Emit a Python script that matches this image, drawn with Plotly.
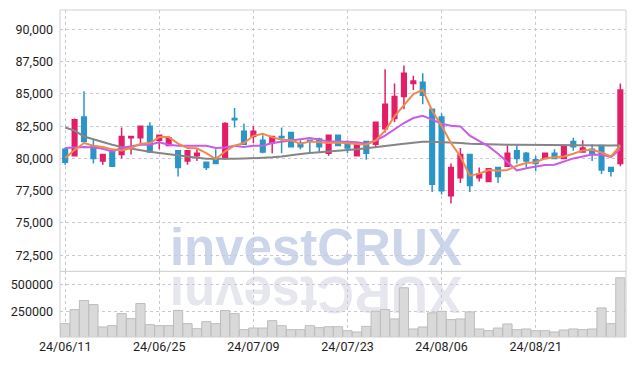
import plotly.graph_objects as go

dates = ["24/06/11","24/06/12","24/06/13","24/06/14","24/06/17","24/06/18","24/06/19","24/06/20","24/06/21","24/06/24",
         "24/06/25","24/06/26","24/06/27","24/06/28","24/07/01","24/07/02","24/07/03","24/07/04","24/07/05","24/07/08",
         "24/07/09","24/07/10","24/07/11","24/07/12","24/07/15","24/07/16","24/07/17","24/07/18","24/07/19","24/07/22",
         "24/07/23","24/07/24","24/07/25","24/07/26","24/07/29","24/07/30","24/07/31","24/08/01","24/08/02","24/08/05",
         "24/08/06","24/08/07","24/08/08","24/08/09","24/08/12","24/08/13","24/08/14","24/08/16","24/08/19","24/08/20",
         "24/08/21","24/08/22","24/08/23","24/08/26","24/08/27","24/08/28","24/08/29","24/08/30","24/09/02","24/09/03"]

open_ = [80700,80200,83200,80900,79800,80600,80300,81600,81600,82500,
         81400,81000,80600,79800,80200,79700,80000,80000,83100,82100,
         81700,81400,81200,81700,82000,81200,81400,81500,80400,81800,
         81100,80200,81300,81100,82300,83100,84800,85800,85900,83800,
         83200,77100,78500,80300,78500,78200,79300,79400,80600,80400,
         79900,80000,80400,80000,81300,80500,80700,81000,79300,79600]
high_ = [80850,83100,85200,81500,80300,80700,82400,81700,82500,82800,
         81800,81700,80600,80600,80700,79700,80700,82800,83900,82700,
         82500,81800,81700,82400,82000,81400,81400,81600,81800,81800,
         81400,81100,81300,82800,86900,85800,87200,86400,86600,83800,
         83500,79600,80800,80300,79300,79200,79300,81000,81100,80500,
         80200,80400,80700,81000,81600,81400,81100,81000,79300,85800]
low_ = [79500,80200,81300,79600,79500,79400,80000,80300,81200,80500,
        80700,81000,78600,79500,79800,79100,79600,79900,82400,81100,
        81200,80400,80400,80400,80900,80700,80400,80500,80200,81000,
        80400,80200,79900,80800,82000,82800,83800,85300,84200,77400,
        77200,76500,78100,77400,78200,78200,78100,79400,79600,79300,
        79000,80000,80000,80000,80600,80500,79800,78800,78600,79400]
close_ = [79700,83000,81300,80000,80300,79400,81700,81700,82500,80500,
          81800,81600,79300,80600,80400,79300,79600,82700,83000,81100,
          82100,80500,81700,81600,80900,80900,81300,80900,81800,81000,
          80800,81100,80400,82800,84200,84800,86600,86000,84900,78000,
          77500,79300,80300,77900,78800,79200,78600,80400,80000,79800,
          79600,80400,80000,81000,80900,80800,80400,79100,79000,85300]

volume = [142900,271000,353500,316800,112600,124500,234400,188600,326000,133700,
          124500,124500,262000,142900,97000,161000,142900,262000,234400,88000,
          103000,103000,170000,124500,88000,88000,124500,106000,115000,115000,
          78800,66700,118000,255500,271000,185900,469800,94300,112600,240800,
          255500,179500,185900,250000,94300,78800,103000,140000,88000,94300,
          78800,78800,66700,85000,94300,88000,94300,286600,142900,561000]

ma5 = [80030,80650,81190,80980,80880,80700,80620,80800,81140,81190,
       81650,81650,81140,80800,80780,80400,79950,80540,80980,81190,
       81750,81910,81650,81450,81400,81140,81300,81240,81190,81240,
       81190,81140,81060,81390,82150,83250,84150,84980,85320,83690,
       82530,81190,80150,78660,78820,79100,79050,79100,79430,79640,
       79700,80000,80080,80150,80360,80620,80670,80460,80150,80980]
ma20 = [80800,80850,80880,80850,80750,80540,80800,80950,81060,81060,
        81240,81060,80980,80980,80980,80980,80800,80850,80980,80880,
        80980,80980,81190,81300,81400,81500,81580,81450,81300,81300,
        81270,81250,81140,81390,81760,82220,82740,83130,83300,83000,
        82690,82530,82480,81760,81350,80930,80360,79690,79070,79240,
        79380,79480,79510,79770,80000,80150,80310,80290,80100,80730]
ma60 = [82400,82150,81700,81480,81240,81060,80880,80750,80620,80520,
        80420,80320,80230,80150,80050,79980,79965,79950,79965,79985,
        80000,80030,80080,80140,80260,80340,80420,80470,80520,80570,
        80650,80700,80780,80880,80980,81060,81140,81220,81290,81290,
        81270,81230,81190,81130,81100,81080,81070,81060,81060,81050,
        81040,81040,81040,81030,81020,81010,81006,81000,81000,81010]

price_ticks = [72500, 75000, 77500, 80000, 82500, 85000, 87500, 90000]
volume_ticks = [250000, 500000]
x_ticks = dates[::10]

RED = "#e31e68"
BLUE = "#2b95c8"
GRID = "#c8c8d8"
FONT = "Roboto, sans-serif"
SEP = 0.2009

fig = go.Figure()
fig.add_trace(go.Bar(x=dates, y=volume, xaxis="x", yaxis="y2",
                     marker=dict(color="#d9d9d9", line=dict(color="#bdbdbd", width=1)),
                     showlegend=False, hoverinfo="skip"))
fig.add_trace(go.Candlestick(x=dates, open=open_, high=high_, low=low_, close=close_,
                             xaxis="x", yaxis="y",
                             increasing=dict(fillcolor=RED, line=dict(color=RED, width=1.5)),
                             decreasing=dict(fillcolor=BLUE, line=dict(color=BLUE, width=1.5)),
                             whiskerwidth=0, showlegend=False))
fig.add_trace(go.Scatter(x=dates, y=ma60, mode="lines", line=dict(color="#858585", width=2),
                         xaxis="x", yaxis="y", showlegend=False))
fig.add_trace(go.Scatter(x=dates, y=ma20, mode="lines", line=dict(color="#c95ce6", width=2),
                         xaxis="x", yaxis="y", showlegend=False))
fig.add_trace(go.Scatter(x=dates, y=ma5, mode="lines", line=dict(color="#f0894d", width=2),
                         xaxis="x", yaxis="y", showlegend=False))

axis_font = dict(family=FONT, size=12.5, color="#1e1e1e")
fig.update_layout(
    width=634, height=366,
    margin=dict(l=60, r=8, t=10, b=28.5),
    paper_bgcolor="white", plot_bgcolor="white",
    bargap=0.02,
    xaxis=dict(type="category", anchor="y2", domain=[0, 1], range=[-0.55, 59.6],
               tickmode="array", tickvals=x_ticks, ticktext=x_ticks,
               showgrid=True, gridcolor=GRID, griddash="dot", gridwidth=1,
               tickfont=axis_font, ticks="", rangeslider=dict(visible=False),
               showline=False, zeroline=False),
    yaxis=dict(domain=[SEP, 1], range=[71250, 91500], tickmode="array", tickvals=price_ticks,
               tickformat=",", showgrid=True, gridcolor=GRID, griddash="dot",
               tickfont=axis_font, ticks="", ticklabelstandoff=6, zeroline=False),
    yaxis2=dict(domain=[0, SEP], range=[21000, 620000], tickmode="array", tickvals=volume_ticks,
                tickformat="d", showgrid=True, gridcolor=GRID, griddash="dot",
                tickfont=axis_font, ticks="", ticklabelstandoff=6, zeroline=False),
    shapes=[
        dict(type="line", xref="paper", yref="paper", x0=0.152, x1=0.752, y0=SEP, y1=SEP,
             line=dict(color="rgba(0,0,0,0)", width=0), layer="below",
             label=dict(text="investCRUX", textposition="middle", yanchor="bottom", padding=0,
                        font=dict(family="Liberation Sans", size=51, color="#cdd5ea", weight="bold"))),
        dict(type="line", xref="paper", yref="paper", x0=0.152, x1=0.752, y0=SEP, y1=SEP,
             line=dict(color="rgba(0,0,0,0)", width=0), layer="below",
             label=dict(text="XURCtsevni", textposition="middle", textangle=180, yanchor="bottom", padding=0,
                        font=dict(family="Liberation Sans", size=51, color="#e6e6ee", weight="bold"))),
        dict(type="line", xref="paper", yref="paper", x0=0, x1=1, y0=SEP, y1=SEP,
             line=dict(color="#cccccc", width=1), layer="above"),
        dict(type="rect", xref="paper", yref="paper", x0=0, x1=1, y0=0, y1=1,
             line=dict(color="#d0d0d0", width=1), layer="above"),
    ],
)

fig.write_html("out.html")
